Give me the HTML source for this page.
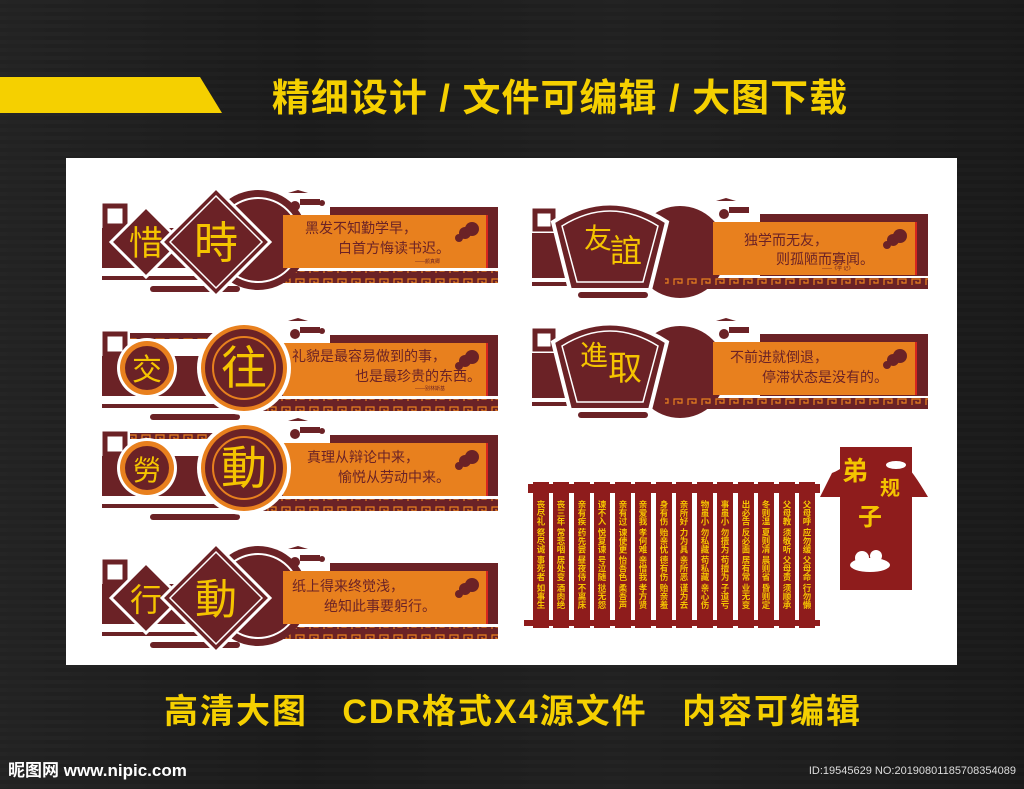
<!DOCTYPE html>
<html><head><meta charset="utf-8"><style>
html,body{margin:0;padding:0;background:#1b1b1b}
svg{display:block}
text{font-family:"Liberation Sans","Noto Sans CJK SC",sans-serif}
</style></head><body>
<svg width="1024" height="789" viewBox="0 0 1024 789" xmlns="http://www.w3.org/2000/svg">
<defs>
<linearGradient id="wood" x1="0" y1="0" x2="1" y2="0">
<stop offset="0" stop-color="#2a2a2a"/><stop offset="0.3" stop-color="#1a1a1a"/><stop offset="0.6" stop-color="#262626"/><stop offset="1" stop-color="#181818"/>
</linearGradient>
<pattern id="key" width="14" height="12" patternUnits="userSpaceOnUse">
<rect width="14" height="12" fill="#6b2226"/>
<path d="M2 9V3h8v4H6V5" fill="none" stroke="#e8801e" stroke-width="1.2"/>
</pattern>
<pattern id="stripes" width="1024" height="8" patternUnits="userSpaceOnUse">
<rect width="1024" height="4" fill="#202020"/><rect y="4" width="1024" height="4" fill="#1a1a1a"/>
</pattern>
</defs>
<rect width="1024" height="789" fill="url(#wood)"/>
<rect width="1024" height="789" fill="url(#stripes)" opacity="0.5"/>
<polygon points="0,77 200,77 222,113 0,113" fill="#f5d000"/>
<text x="560" y="111" text-anchor="middle" font-size="38" font-weight="bold" fill="#f5d000" letter-spacing="1">精细设计 / 文件可编辑 / 大图下载</text>
<rect x="66" y="158" width="891" height="507" fill="#ffffff"/>

<g id="L1">
<rect x="102" y="228" width="190" height="40" fill="#6b2226"/>
<rect x="105" y="206" width="20" height="20" fill="none" stroke="#6b2226" stroke-width="5"/>
<rect x="330" y="207" width="168" height="61" fill="#6b2226"/>
<rect x="283" y="215" width="203" height="53" fill="#e8801e"/>
<rect x="486" y="215" width="2" height="53" fill="#d7261e"/>
<rect x="235" y="271" width="263" height="12" fill="url(#key)"/>
<rect x="102" y="276" width="140" height="4" fill="#6b2226"/>
<rect x="150" y="286" width="90" height="6" rx="3" fill="#6b2226"/>
<g fill="#6b2226"><circle cx="295" cy="206" r="5"/><rect x="300" y="199" width="20" height="6"/><path d="M288 193h20l-10-3z"/><circle cx="322" cy="203" r="3"/></g>
<g fill="#6b2226"><circle cx="465" cy="233" r="6"/><circle cx="472" cy="229" r="7"/><circle cx="459" cy="238" r="4"/></g>
</g>
<circle cx="258" cy="240" r="50" fill="#6b2226"/>
<circle cx="258" cy="240" r="42" fill="none" stroke="#fff" stroke-width="2"/>
<rect x="283" y="215" width="40" height="53" fill="#e8801e"/>
<polygon points="146,207 181,242 146,277 111,242" fill="#6b2226" stroke="#fff" stroke-width="3"/>
<polygon points="216,188 270,242 216,296 162,242" fill="#6b2226" stroke="#fff" stroke-width="3"/>
<polygon points="216,196 262,242 216,288 170,242" fill="none" stroke="#fff" stroke-width="1.5"/>
<text x="146" y="255" text-anchor="middle" font-size="34" fill="#f5c400">惜</text>
<text x="216" y="258" text-anchor="middle" font-size="44" fill="#f5c400">時</text>
<text x="305" y="233" font-size="14" fill="#6b2226">黑发不知勤学早，</text>
<text x="338" y="253" font-size="14" fill="#6b2226">白首方悔读书迟。</text>
<text x="415" y="263" font-size="5" fill="#6b2226">——颜真卿</text>

<use href="#L1" transform="translate(0,128)"/>
<rect x="130" y="333" width="130" height="6" fill="url(#key)"/>
<circle cx="147" cy="368" r="30" fill="#fff"/><circle cx="147" cy="368" r="27" fill="#e8801e"/><circle cx="147" cy="368" r="22" fill="#6b2226"/>
<circle cx="244" cy="368" r="47" fill="#fff"/><circle cx="244" cy="368" r="43" fill="#e8801e"/><circle cx="244" cy="368" r="39" fill="#6b2226"/><circle cx="244" cy="368" r="31" fill="none" stroke="#e8801e" stroke-width="2"/>
<text x="147" y="380" text-anchor="middle" font-size="30" fill="#f5c400">交</text>
<text x="244" y="384" text-anchor="middle" font-size="46" fill="#f5c400">往</text>
<text x="292" y="361" font-size="14" fill="#6b2226">礼貌是最容易做到的事，</text>
<text x="355" y="381" font-size="14" fill="#6b2226">也是最珍贵的东西。</text>
<text x="415" y="390" font-size="5" fill="#6b2226">——别林斯基</text>

<use href="#L1" transform="translate(0,228)"/>
<rect x="130" y="433" width="130" height="6" fill="url(#key)"/>
<circle cx="147" cy="468" r="30" fill="#fff"/><circle cx="147" cy="468" r="27" fill="#e8801e"/><circle cx="147" cy="468" r="22" fill="#6b2226"/>
<circle cx="244" cy="468" r="47" fill="#fff"/><circle cx="244" cy="468" r="43" fill="#e8801e"/><circle cx="244" cy="468" r="39" fill="#6b2226"/><circle cx="244" cy="468" r="31" fill="none" stroke="#e8801e" stroke-width="2"/>
<text x="147" y="480" text-anchor="middle" font-size="28" fill="#f5c400">勞</text>
<text x="244" y="484" text-anchor="middle" font-size="46" fill="#f5c400">動</text>
<text x="307" y="462" font-size="14" fill="#6b2226">真理从辩论中来，</text>
<text x="338" y="482" font-size="14" fill="#6b2226">愉悦从劳动中来。</text>

<use href="#L1" transform="translate(0,356)"/>
<circle cx="258" cy="596" r="50" fill="#6b2226"/>
<circle cx="258" cy="596" r="42" fill="none" stroke="#fff" stroke-width="2"/>
<rect x="283" y="571" width="40" height="53" fill="#e8801e"/>
<polygon points="146,563 181,598 146,633 111,598" fill="#6b2226" stroke="#fff" stroke-width="3"/>
<polygon points="216,544 270,598 216,652 162,598" fill="#6b2226" stroke="#fff" stroke-width="3"/>
<polygon points="216,552 262,598 216,644 170,598" fill="none" stroke="#fff" stroke-width="1.5"/>
<text x="146" y="611" text-anchor="middle" font-size="32" fill="#f5c400">行</text>
<text x="216" y="614" text-anchor="middle" font-size="42" fill="#f5c400">動</text>
<text x="292" y="591" font-size="14" fill="#6b2226">纸上得来终觉浅，</text>
<text x="324" y="611" font-size="14" fill="#6b2226">绝知此事要躬行。</text>

<g id="R1">
<rect x="532" y="233" width="70" height="45" fill="#6b2226"/>
<rect x="535" y="211" width="18" height="18" fill="none" stroke="#6b2226" stroke-width="5"/>
<circle cx="680" cy="252" r="46" fill="#6b2226"/>
<rect x="760" y="214" width="168" height="62" fill="#6b2226"/>
<rect x="713" y="222" width="202" height="53" fill="#e8801e"/>
<rect x="915" y="222" width="2" height="53" fill="#d7261e"/>
<rect x="665" y="278" width="263" height="11" fill="url(#key)"/>
<rect x="532" y="282" width="120" height="4" fill="#6b2226"/>
<rect x="578" y="292" width="70" height="6" rx="3" fill="#6b2226"/>
<path d="M553 222 Q610 185 667 222 L650 290 L570 290 Z" fill="#6b2226" stroke="#fff" stroke-width="4"/>
<path d="M562 226 Q610 196 658 226 L643 282 L577 282 Z" fill="none" stroke="#fff" stroke-width="1.5"/>
<g fill="#6b2226"><circle cx="724" cy="214" r="5"/><rect x="729" y="207" width="20" height="6"/><path d="M716 201h20l-10-3z"/></g>
<g fill="#6b2226"><circle cx="893" cy="240" r="6"/><circle cx="900" cy="236" r="7"/><circle cx="887" cy="245" r="4"/></g>
</g>
<text x="584" y="248" font-size="28" fill="#f5c400">友</text>
<text x="610" y="262" font-size="32" fill="#f5c400">誼</text>
<text x="744" y="245" font-size="14" fill="#6b2226">独学而无友，</text>
<text x="776" y="264" font-size="14" fill="#6b2226">则孤陋而寡闻。</text>
<text x="822" y="270" font-size="5" fill="#6b2226">——《学 记》</text>

<use href="#R1" transform="translate(0,120)"/>
<text x="580" y="365" font-size="28" fill="#f5c400">進</text>
<text x="608" y="380" font-size="34" fill="#f5c400">取</text>
<text x="730" y="362" font-size="14" fill="#6b2226">不前进就倒退，</text>
<text x="762" y="382" font-size="14" fill="#6b2226">停滞状态是没有的。</text>

<g fill="#8e1c1c">
<rect x="528" y="484" width="292" height="9"/>
<rect x="524" y="620" width="296" height="6"/>
<rect x="533" y="482" width="16" height="146"/><rect x="553" y="482" width="16" height="146"/><rect x="574" y="482" width="16" height="146"/><rect x="594" y="482" width="16" height="146"/><rect x="615" y="482" width="16" height="146"/><rect x="635" y="482" width="16" height="146"/><rect x="656" y="482" width="16" height="146"/><rect x="676" y="482" width="16" height="146"/><rect x="697" y="482" width="16" height="146"/><rect x="717" y="482" width="16" height="146"/><rect x="738" y="482" width="16" height="146"/><rect x="758" y="482" width="16" height="146"/><rect x="779" y="482" width="16" height="146"/><rect x="799" y="482" width="16" height="146"/>
</g>
<g font-size="8.5" fill="#f5c400" font-weight="bold">
<text x="541" y="500" writing-mode="tb">丧尽礼 祭尽诚 事死者 如事生</text>
<text x="561" y="500" writing-mode="tb">丧三年 常悲咽 居处变 酒肉绝</text>
<text x="582" y="500" writing-mode="tb">亲有疾 药先尝 昼夜侍 不离床</text>
<text x="602" y="500" writing-mode="tb">谏不入 悦复谏 号泣随 挞无怨</text>
<text x="623" y="500" writing-mode="tb">亲有过 谏使更 怡吾色 柔吾声</text>
<text x="643" y="500" writing-mode="tb">亲爱我 孝何难 亲憎我 孝方贤</text>
<text x="664" y="500" writing-mode="tb">身有伤 贻亲忧 德有伤 贻亲羞</text>
<text x="684" y="500" writing-mode="tb">亲所好 力为具 亲所恶 谨为去</text>
<text x="705" y="500" writing-mode="tb">物虽小 勿私藏 苟私藏 亲心伤</text>
<text x="725" y="500" writing-mode="tb">事虽小 勿擅为 苟擅为 子道亏</text>
<text x="746" y="500" writing-mode="tb">出必告 反必面 居有常 业无变</text>
<text x="766" y="500" writing-mode="tb">冬则温 夏则凊 晨则省 昏则定</text>
<text x="787" y="500" writing-mode="tb">父母教 须敬听 父母责 须顺承</text>
<text x="807" y="500" writing-mode="tb">父母呼 应勿缓 父母命 行勿懒</text>
</g>
<rect x="840" y="447" width="72" height="143" fill="#8e1c1c"/>
<path d="M832 473 Q840 470 845 465 L905 465 Q912 470 928 497 L820 497 Z" fill="#8e1c1c"/>
<text x="842" y="480" font-size="26" font-weight="bold" fill="#f5c400">弟</text>
<text x="880" y="495" font-size="20" font-weight="bold" fill="#f5c400">规</text>
<text x="858" y="525" font-size="24" font-weight="bold" fill="#f5c400">子</text>
<g fill="#fff"><ellipse cx="870" cy="565" rx="20" ry="7"/><circle cx="862" cy="558" r="7"/><circle cx="876" cy="556" r="6"/><ellipse cx="896" cy="465" rx="10" ry="4"/></g>

<text x="513" y="723" text-anchor="middle" font-size="34" font-weight="bold" fill="#f5d000" letter-spacing="2" xml:space="preserve">高清大图   CDR格式X4源文件   内容可编辑</text>
<text x="8" y="776" font-size="17" font-weight="bold" fill="#ffffff">昵图网 www.nipic.com</text>
<text x="1016" y="774" text-anchor="end" font-size="11" fill="#dddddd">ID:19545629 NO:20190801185708354089</text>
</svg>
</body></html>
